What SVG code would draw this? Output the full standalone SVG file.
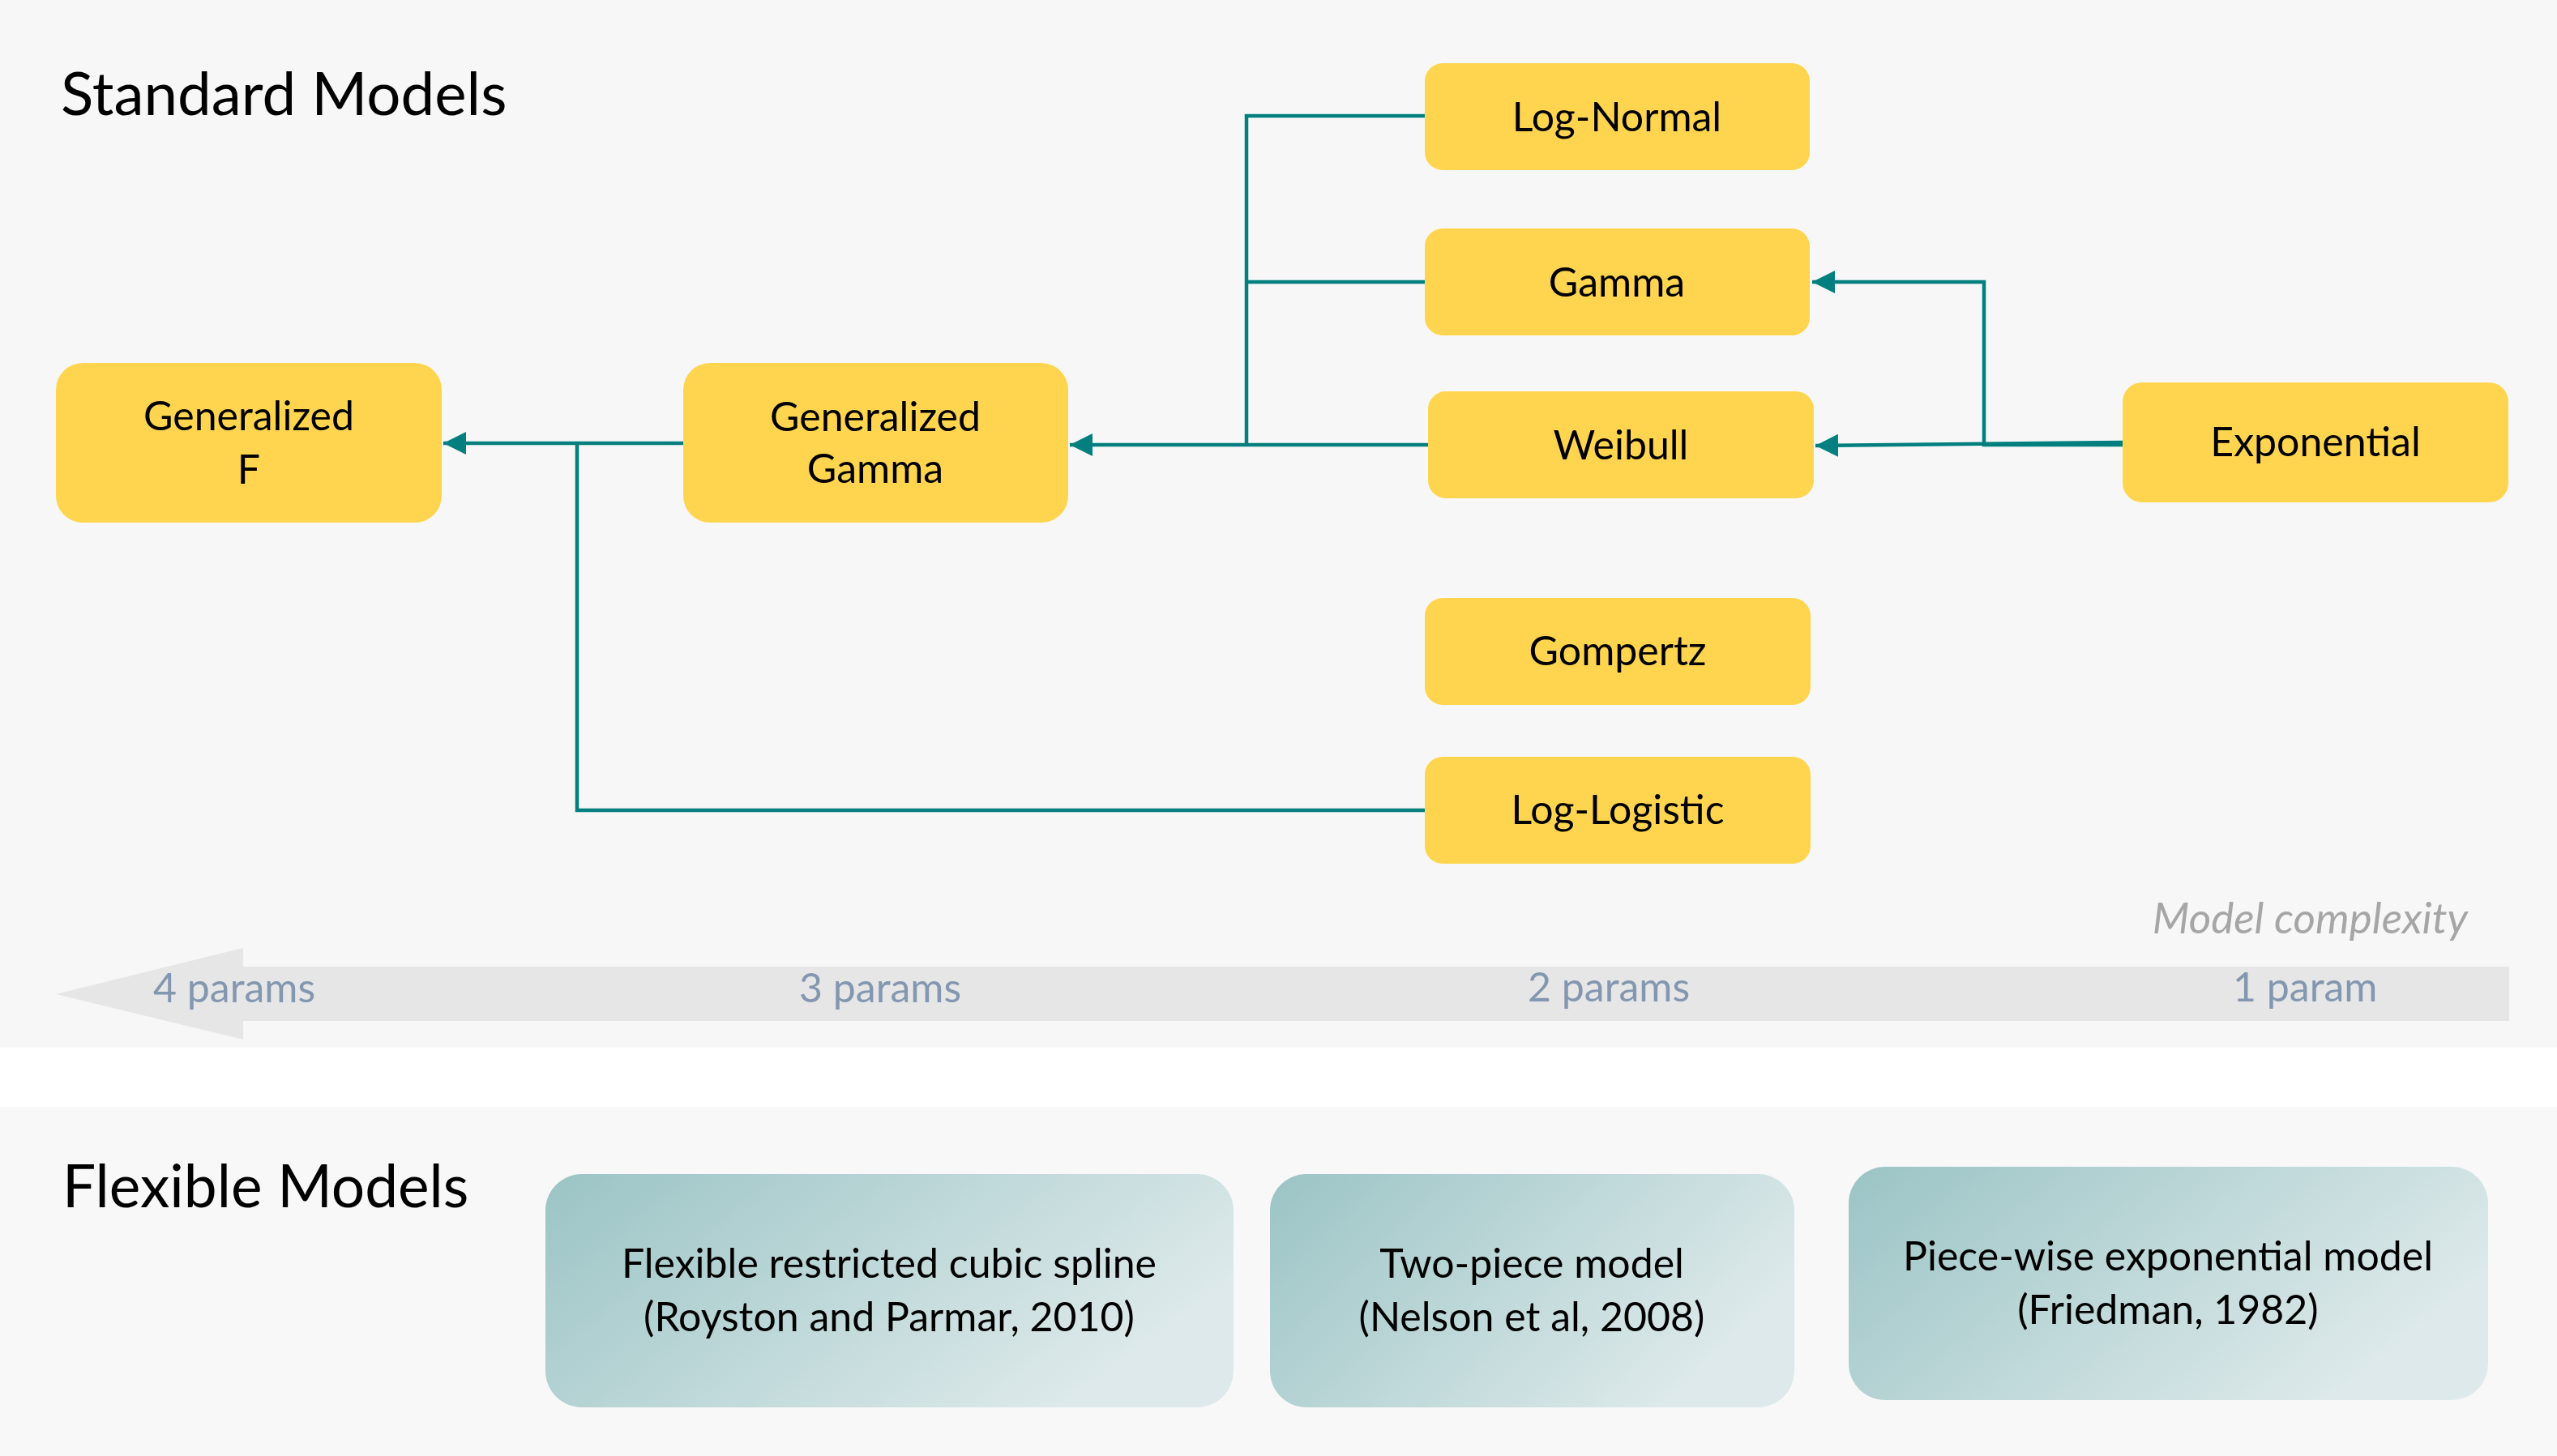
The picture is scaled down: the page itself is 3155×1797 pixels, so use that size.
<svg xmlns="http://www.w3.org/2000/svg" width="3155" height="1797" viewBox="0 0 3155 1797">
<defs>
<style>
.node rect.y{fill:#FFD54F;}
.lbl{font-family:Lato,"Open Sans","Liberation Sans",sans-serif;font-size:50px;fill:#000;text-anchor:middle;}
.title{font-family:Lato,"Open Sans","Liberation Sans",sans-serif;fill:#000;}
.par{font-family:Lato,"Open Sans","Liberation Sans",sans-serif;font-size:50px;fill:#8497B0;}
.conn path{fill:none;stroke:#037F7F;stroke-width:4.5;}
</style>
<marker id="ah" viewBox="0 0 28 28" refX="28" refY="14" markerWidth="28" markerHeight="28" markerUnits="userSpaceOnUse" orient="auto">
<path d="M0,0 L28,14 L0,28 z" fill="#037F7F"/>
</marker>
<linearGradient id="fg" x1="0" y1="0" x2="1" y2="0.45">
<stop offset="0" stop-color="#9BC4C5"/>
<stop offset="1" stop-color="#DDE9EA"/>
</linearGradient>
</defs>
<rect x="0" y="0" width="3155" height="1797" fill="#FFFFFF"/>
<rect x="0" y="0" width="3155" height="1293" fill="#F7F7F7"/>
<rect x="0" y="1366" width="3155" height="431" fill="#F8F8F8"/>

<text class="title" x="75" y="142" font-size="74.5">Standard Models</text>
<text class="title" x="77" y="1490" font-size="73">Flexible Models</text>

<g id="axis">
<path d="M69,1227 L300,1170 L300,1193 L3096,1193 L3096,1260 L300,1260 L300,1283 Z" fill="#E6E6E6"/>
<text class="par" x="189" y="1237">4 params</text>
<text class="par" x="986" y="1237">3 params</text>
<text class="par" x="1885" y="1236">2 params</text>
<text class="par" x="2755" y="1236">1 param</text>
<text x="3045" y="1152" font-family="Lato,'Open Sans','Liberation Sans',sans-serif" font-size="53" font-style="italic" fill="#A6A6A6" text-anchor="end">Model complexity</text>
</g>

<g class="conn" id="connectors">
<path d="M843,547 H547" marker-end="url(#ah)"/>
<path d="M1759,1000 H712 V547"/>
<path d="M1762,549 H1320" marker-end="url(#ah)"/>
<path d="M1758,143 H1538 V549"/>
<path d="M1758,348 H1538"/>
<path d="M2619,546 L2240,550" marker-end="url(#ah)"/>
<path d="M2619,549 H2448 V348 H2236" marker-end="url(#ah)"/>
</g>

<g class="node" id="node-genf">
<rect class="y" x="69" y="448" width="476" height="197" rx="33"/>
<text class="lbl" x="307" y="531">Generalized</text>
<text class="lbl" x="307" y="597">F</text>
</g>
<g class="node" id="node-gengamma">
<rect class="y" x="843" y="448" width="475" height="197" rx="33"/>
<text class="lbl" x="1080" y="532">Generalized</text>
<text class="lbl" x="1080" y="596">Gamma</text>
</g>
<g class="node" id="node-lognormal">
<rect class="y" x="1758" y="78" width="475" height="132" rx="22"/>
<text class="lbl" x="1995" y="162">Log-Normal</text>
</g>
<g class="node" id="node-gamma">
<rect class="y" x="1758" y="282" width="475" height="132" rx="22"/>
<text class="lbl" x="1995" y="366">Gamma</text>
</g>
<g class="node" id="node-weibull">
<rect class="y" x="1762" y="483" width="476" height="132" rx="22"/>
<text class="lbl" x="2000" y="567">Weibull</text>
</g>
<g class="node" id="node-gompertz">
<rect class="y" x="1758" y="738" width="476" height="132" rx="22"/>
<text class="lbl" x="1996" y="821">Gompertz</text>
</g>
<g class="node" id="node-loglogistic">
<rect class="y" x="1758" y="934" width="476" height="132" rx="22"/>
<text class="lbl" x="1996" y="1017">Log-Logistic</text>
</g>
<g class="node" id="node-exponential">
<rect class="y" x="2619" y="472" width="476" height="148" rx="24"/>
<text class="lbl" x="2857" y="563">Exponential</text>
</g>

<g class="node" id="node-rcs">
<rect x="673" y="1449" width="849" height="288" rx="45" fill="url(#fg)"/>
<text class="lbl" x="1097" y="1577">Flexible restricted cubic spline</text>
<text class="lbl" x="1097" y="1643">(Royston and Parmar, 2010)</text>
</g>
<g class="node" id="node-twopiece">
<rect x="1567" y="1449" width="647" height="288" rx="45" fill="url(#fg)"/>
<text class="lbl" x="1890" y="1577">Two-piece model</text>
<text class="lbl" x="1890" y="1643">(Nelson et al, 2008)</text>
</g>
<g class="node" id="node-piecewise">
<rect x="2281" y="1440" width="789" height="288" rx="45" fill="url(#fg)"/>
<text class="lbl" x="2675" y="1568">Piece-wise exponential model</text>
<text class="lbl" x="2675" y="1634">(Friedman, 1982)</text>
</g>
</svg>
